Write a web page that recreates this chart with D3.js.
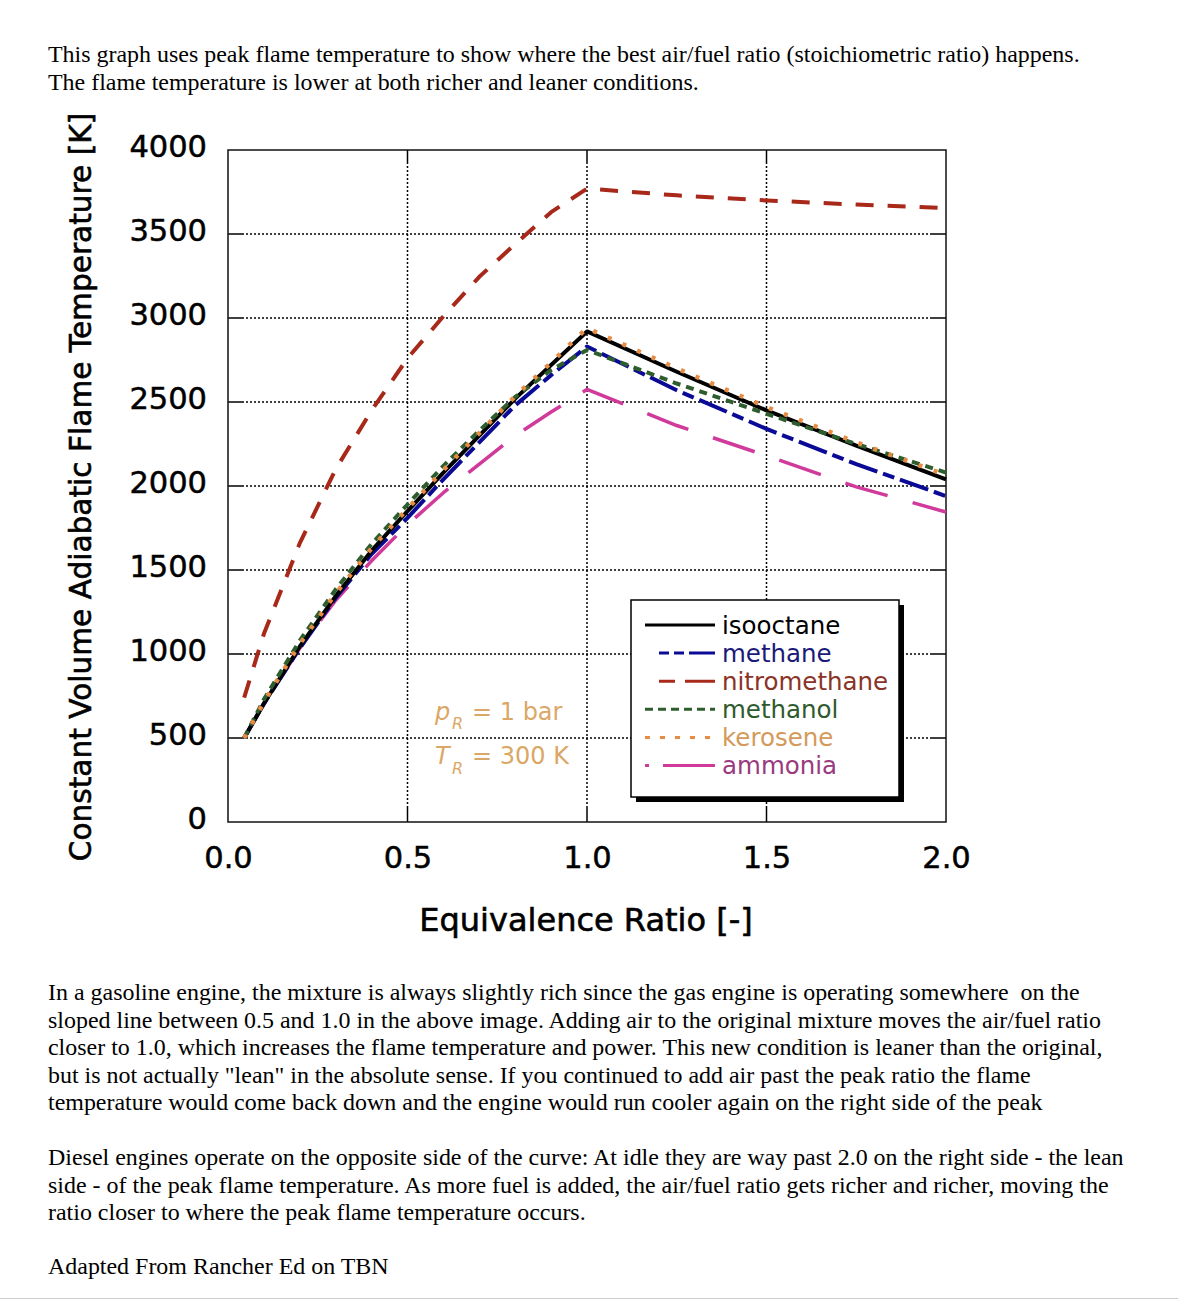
<html>
<head>
<meta charset="UTF-8">
<title>Adiabatic Flame Temperature</title>
<script src="https://d3js.org/d3.v7.min.js"></script>
<style>
  body { margin: 0; background: #fff; }
  svg { display: block; }
  .para { font-family: "Liberation Serif", "Times New Roman", serif; font-size: 23.95px; fill: #000; white-space: pre; }
  .chart { font-family: "DejaVu Sans", Verdana, sans-serif; }
</style>
</head>
<body>
<script type="text/javascript">
// equivalence ratio samples (rich side up to 1.0, lean side to 2.0)
var phi = [0.045, 0.1, 0.2, 0.3, 0.4, 0.5, 0.6, 0.7, 0.8, 0.9, 1.0, 1.25, 1.5, 1.75, 2.0];

var isooctane    = [500, 705, 1045, 1345, 1615, 1850, 2080, 2300, 2520, 2720, 2920, 2680, 2450, 2240, 2040];
var methane      = [500, 705, 1035, 1335, 1595, 1810, 2040, 2260, 2480, 2660, 2830, 2570, 2340, 2130, 1940];
var nitromethane = [740, 1120, 1660, 2100, 2450, 2760, 3010, 3245, 3440, 3630, 3770, 3730, 3700, 3675, 3655];
var methanol     = [500, 730, 1080, 1385, 1655, 1890, 2120, 2330, 2530, 2690, 2810, 2610, 2430, 2250, 2080];
var kerosene     = [500, 715, 1060, 1360, 1630, 1865, 2095, 2315, 2535, 2735, 2940, 2700, 2470, 2260, 2065];
var ammonia      = [500, 700, 1035, 1320, 1555, 1770, 1960, 2130, 2300, 2440, 2575, 2360, 2180, 1995, 1845];

var fuelNames = ["isooctane", "methane", "nitromethane", "methanol", "kerosene", "ammonia"];
var xTicks = [0, 0.5, 1.0, 1.5, 2.0];
var yTicks = [0, 500, 1000, 1500, 2000, 2500, 3000, 3500, 4000];

var width = 1178;
var height = 1300;

var svg = d3.select("body").append("svg")
  .attr("width", width)
  .attr("height", height);

// text around the chart
var introLines = [
  "This graph uses peak flame temperature to show where the best air/fuel ratio (stoichiometric ratio) happens.",
  "The flame temperature is lower at both richer and leaner conditions."
];
var p2Lines = [
  "In a gasoline engine, the mixture is always slightly rich since the gas engine is operating somewhere  on the",
  "sloped line between 0.5 and 1.0 in the above image. Adding air to the original mixture moves the air/fuel ratio",
  "closer to 1.0, which increases the flame temperature and power. This new condition is leaner than the original,",
  "but is not actually \"lean\" in the absolute sense. If you continued to add air past the peak ratio the flame",
  "temperature would come back down and the engine would run cooler again on the right side of the peak"
];
var p3Lines = [
  "Diesel engines operate on the opposite side of the curve: At idle they are way past 2.0 on the right side - the lean",
  "side - of the peak flame temperature. As more fuel is added, the air/fuel ratio gets richer and richer, moving the",
  "ratio closer to where the peak flame temperature occurs."
];

function paragraph(lines, top, step) {
  svg.append("g").selectAll("text")
    .data(lines)
    .enter()
    .append("text")
    .attr("class", "para")
    .attr("x", 48)
    .attr("y", function(d, i) { return top + i * step; })
    .text(function(d) { return d; });
}
paragraph(introLines, 62, 28);
paragraph(p2Lines, 1000, 27.5);
paragraph(p3Lines, 1165, 27.5);
paragraph(["Adapted From Rancher Ed on TBN"], 1274, 0);

svg.append("line")
  .attr("x1", 0).attr("x2", width)
  .attr("y1", 1298.5).attr("y2", 1298.5)
  .attr("stroke", "#ccc")
  .attr("stroke-width", 1);

// chart
var x = d3.scaleLinear().domain([0, 2]).range([228, 946]);
var y = d3.scaleLinear().domain([0, 4000]).range([822, 150]);

var chart = svg.append("g").attr("class", "chart");

// dotted grid
chart.selectAll(".hgrid")
  .data(yTicks.slice(1, -1))
  .enter()
  .append("line")
  .attr("class", "hgrid")
  .attr("x1", x(0) + 14).attr("x2", x(2) - 14)
  .attr("y1", function(d) { return y(d); })
  .attr("y2", function(d) { return y(d); })
  .attr("stroke", "#000")
  .attr("stroke-width", 1.5)
  .attr("stroke-dasharray", "2,2");

chart.selectAll(".vgrid")
  .data(xTicks.slice(1, -1))
  .enter()
  .append("line")
  .attr("class", "vgrid")
  .attr("y1", y(0) - 14).attr("y2", y(4000) + 14)
  .attr("x1", function(d) { return x(d); })
  .attr("x2", function(d) { return x(d); })
  .attr("stroke", "#000")
  .attr("stroke-width", 1.5)
  .attr("stroke-dasharray", "2,2");

// inward ticks on all four sides
yTicks.slice(1, -1).forEach(function(d) {
  chart.append("line").attr("x1", x(0)).attr("x2", x(0) + 14)
    .attr("y1", y(d)).attr("y2", y(d)).attr("stroke", "#000").attr("stroke-width", 1.5);
  chart.append("line").attr("x1", x(2) - 14).attr("x2", x(2))
    .attr("y1", y(d)).attr("y2", y(d)).attr("stroke", "#000").attr("stroke-width", 1.5);
});
xTicks.slice(1, -1).forEach(function(d) {
  chart.append("line").attr("y1", y(0)).attr("y2", y(0) - 14)
    .attr("x1", x(d)).attr("x2", x(d)).attr("stroke", "#000").attr("stroke-width", 1.5);
  chart.append("line").attr("y1", y(4000)).attr("y2", y(4000) + 14)
    .attr("x1", x(d)).attr("x2", x(d)).attr("stroke", "#000").attr("stroke-width", 1.5);
});

chart.append("rect")
  .attr("x", x(0)).attr("y", y(4000))
  .attr("width", x(2) - x(0))
  .attr("height", y(0) - y(4000))
  .attr("fill", "none")
  .attr("stroke", "#111")
  .attr("stroke-width", 1.5);

// axes labels via d3 axes
var yAxis = chart.append("g")
  .attr("transform", "translate(" + x(0) + ",0)")
  .call(d3.axisLeft(y).tickValues(yTicks).tickSize(0).tickPadding(21).tickFormat(d3.format("d")));
var xAxis = chart.append("g")
  .attr("transform", "translate(0," + y(0) + ")")
  .call(d3.axisBottom(x).tickValues(xTicks).tickSize(0).tickPadding(24).tickFormat(d3.format(".1f")));
[yAxis, xAxis].forEach(function(a) {
  a.select(".domain").remove();
  a.selectAll("text")
    .style("font-family", "'DejaVu Sans', Verdana, sans-serif")
    .style("font-size", "30.5px")
    .attr("fill", "#000")
    .attr("stroke", "#000")
    .attr("stroke-width", 0.5);
});
yAxis.selectAll("text").attr("dy", "0.22em");

chart.append("text")
  .attr("x", 586).attr("y", 931)
  .attr("text-anchor", "middle")
  .style("font-size", "32px")
  .attr("stroke", "#000").attr("stroke-width", 0.6)
  .text("Equivalence Ratio [-]");

chart.append("text")
  .attr("transform", "translate(91,487) rotate(-90)")
  .attr("text-anchor", "middle")
  .style("font-size", "29.6px")
  .attr("stroke", "#000").attr("stroke-width", 0.6)
  .text("Constant Volume Adiabatic Flame Temperature [K]");

// series
var styles = {
  isooctane:    { color: "#000000", text: "#000000", dash: null,          w: 4 },
  methane:      { color: "#0a0a96", text: "#1a1a7a", dash: "30,6,12,6",   w: 4 },
  nitromethane: { color: "#a8281a", text: "#8a3326", dash: "18,14",       w: 4 },
  methanol:     { color: "#2e5e2e", text: "#2e5a2e", dash: "8,6",         w: 4 },
  kerosene:     { color: "#e88c44", text: "#d49a5c", dash: "4,12",        w: 4.5 },
  ammonia:      { color: "#d03a9a", text: "#9a3a80", dash: "44,26",       w: 3.5 }
};
var seriesData = {
  isooctane: isooctane, methane: methane, nitromethane: nitromethane,
  methanol: methanol, kerosene: kerosene, ammonia: ammonia
};
var drawOrder = ["nitromethane", "ammonia", "methane", "isooctane", "methanol", "kerosene"];

var line = d3.line()
  .x(function(d) { return x(d[0]); })
  .y(function(d) { return y(d[1]); });

drawOrder.forEach(function(name) {
  var s = styles[name];
  chart.append("path")
    .datum(phi.map(function(p, i) { return [p, seriesData[name][i]]; }))
    .attr("d", line)
    .attr("fill", "none")
    .attr("stroke", s.color)
    .attr("stroke-width", s.w)
    .attr("stroke-linejoin", "round")
    .attr("stroke-dasharray", s.dash);
});

// reference conditions
var ann = chart.append("g")
  .attr("fill", "#dba766")
  .style("font-size", "24px");
var a1 = ann.append("text").attr("x", 435).attr("y", 720);
a1.append("tspan").style("font-style", "italic").text("p");
a1.append("tspan").attr("dy", 9).attr("x", 452).style("font-style", "italic").style("font-size", "16px").text("R");
a1.append("tspan").attr("dy", -9).attr("x", 472).text("= 1 bar");
var a2 = ann.append("text").attr("x", 435).attr("y", 764);
a2.append("tspan").style("font-style", "italic").text("T");
a2.append("tspan").attr("dy", 10).attr("x", 452).style("font-style", "italic").style("font-size", "16px").text("R");
a2.append("tspan").attr("dy", -10).attr("x", 472).text("= 300 K");

// legend
var legend = chart.append("g");
legend.append("rect")
  .attr("x", 636).attr("y", 605)
  .attr("width", 268).attr("height", 197)
  .attr("fill", "#000");
legend.append("rect")
  .attr("x", 631).attr("y", 600)
  .attr("width", 268).attr("height", 197)
  .attr("fill", "#fff")
  .attr("stroke", "#000")
  .attr("stroke-width", 1.5);

var legendDash = {
  isooctane: null, methane: "0,14,10,5,10,5,40", nitromethane: "0,14,16,10,40",
  methanol: "8,5", kerosene: "5,10", ammonia: "4,14,52"
};
var rows = legend.selectAll(".row")
  .data(fuelNames)
  .enter()
  .append("g")
  .attr("transform", function(d, i) { return "translate(0," + (625 + i * 28.1) + ")"; });
rows.append("line")
  .attr("x1", 645).attr("x2", 715)
  .attr("y1", 0).attr("y2", 0)
  .attr("stroke", function(d) { return styles[d].color; })
  .attr("stroke-width", 3)
  .attr("stroke-dasharray", function(d) { return legendDash[d]; });
rows.append("text")
  .attr("x", 722).attr("y", 0)
  .attr("dy", "0.35em")
  .style("font-size", "24.5px")
  .attr("fill", function(d) { return styles[d].text; })
  .text(function(d) { return d; });
</script>
</body>
</html>
